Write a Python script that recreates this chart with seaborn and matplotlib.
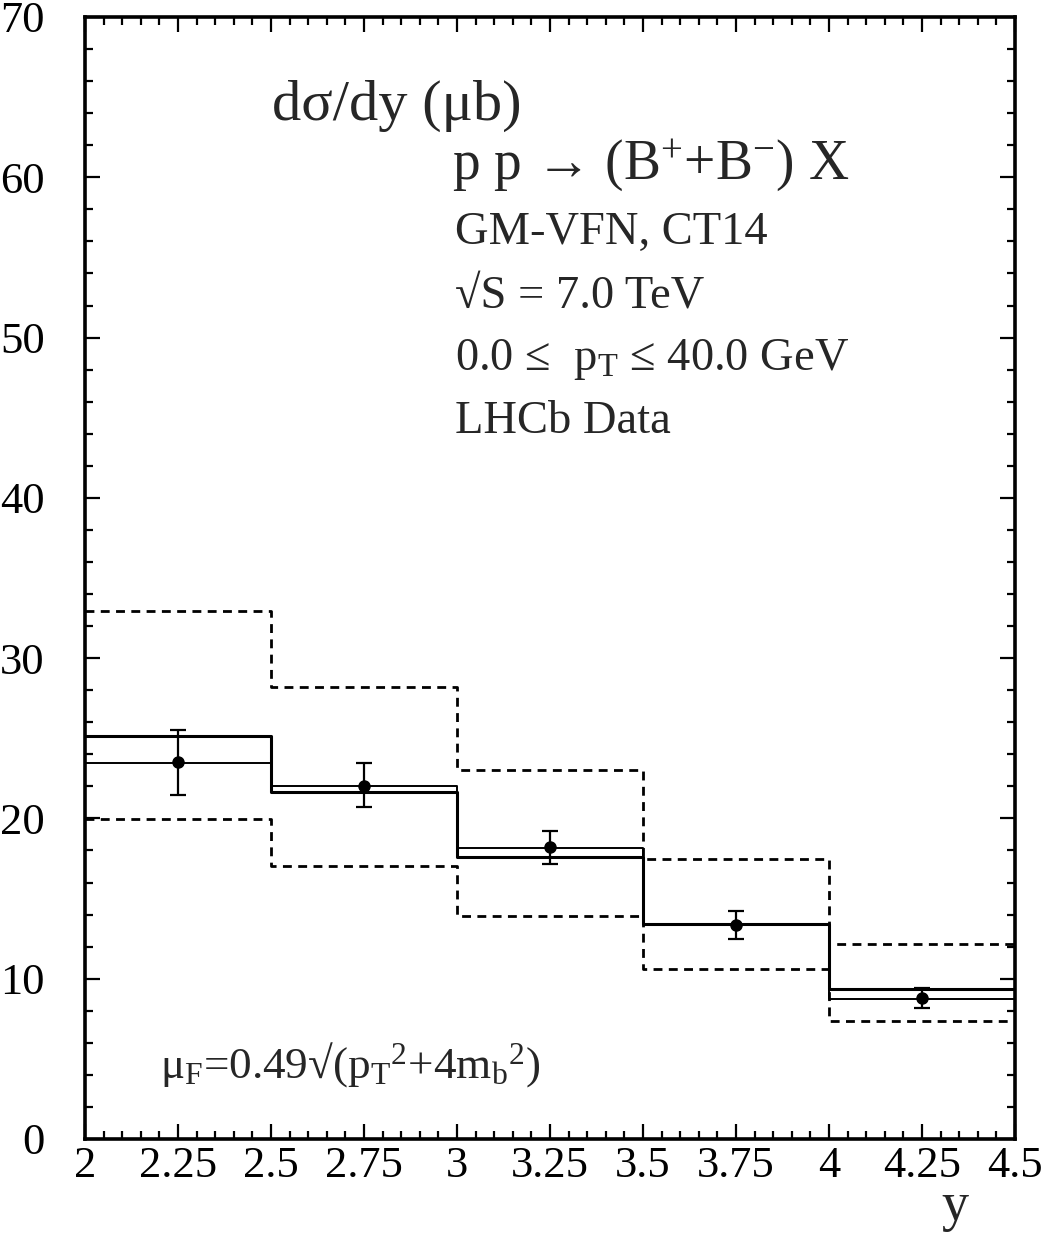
import matplotlib
matplotlib.use('Agg')
import matplotlib.pyplot as plt
import seaborn as sns
import pandas as pd

# ---- DATA ----
y_edges = [2.0, 2.5, 3.0, 3.5, 4.0, 4.5]
y_centers = [2.25, 2.75, 3.25, 3.75, 4.25]

theory_thick = [25.15, 21.65, 17.6, 13.4, 9.35]
theory_thin = [23.45, 22.05, 18.15, 13.4, 8.75]
band_upper = [32.95, 28.2, 23.0, 17.5, 12.15]
band_lower = [19.95, 17.05, 13.9, 10.6, 7.35]

lhcb_val = [23.5, 22.05, 18.2, 13.35, 8.78]
lhcb_top = [25.5, 23.45, 19.2, 14.2, 9.4]
lhcb_bot = [21.45, 20.7, 17.15, 12.5, 8.15]

x_ticks = [2, 2.25, 2.5, 2.75, 3, 3.25, 3.5, 3.75, 4, 4.25, 4.5]
x_ticklabels = ['2', '2.25', '2.5', '2.75', '3', '3.25', '3.5', '3.75', '4', '4.25', '4.5']
y_ticks = [0, 10, 20, 30, 40, 50, 60, 70]

# ---- STYLE ----
sns.set_style('ticks')
plt.rcParams['font.family'] = ['Liberation Serif', 'DejaVu Serif']
plt.rcParams['mathtext.fontset'] = 'custom'
plt.rcParams['mathtext.rm'] = 'Liberation Serif'
plt.rcParams['mathtext.it'] = 'Liberation Serif'
plt.rcParams['mathtext.default'] = 'regular'
plt.rcParams['lines.dashed_pattern'] = [3.2, 2.3]

W, H = 1042, 1234
fig = plt.figure(figsize=(W / 100, H / 100), dpi=100)
ax = fig.add_axes([85 / W, 1 - 1139 / H, (1015 - 85) / W, (1139 - 17) / H])


def step_df(vals):
    return pd.DataFrame({'y': y_edges, 'v': list(vals) + [vals[-1]]})


# ---- BAND (dashed) ----
for vals in (band_upper, band_lower):
    sns.lineplot(data=step_df(vals), x='y', y='v', drawstyle='steps-post',
                 color='black', linestyle='--', linewidth=2.0,
                 estimator=None, sort=False, ax=ax)

# ---- THEORY (solid) ----
sns.lineplot(data=step_df(theory_thick), x='y', y='v', drawstyle='steps-post',
             color='black', linewidth=2.2, estimator=None, sort=False, ax=ax)
sns.lineplot(data=step_df(theory_thin), x='y', y='v', drawstyle='steps-post',
             color='black', linewidth=1.4, estimator=None, sort=False, ax=ax)

# ---- LHCb POINTS ----
err_lo = [v - b for v, b in zip(lhcb_val, lhcb_bot)]
err_hi = [t - v for v, t in zip(lhcb_val, lhcb_top)]
ax.errorbar(y_centers, lhcb_val, yerr=[err_lo, err_hi], fmt='o', color='black',
            ms=8, elinewidth=1.6, capsize=6, capthick=1.6, zorder=5)

# ---- AXES ----
ax.set_xlim(2, 4.5)
ax.set_ylim(0, 70)
ax.set_xticks(x_ticks)
ax.set_xticklabels(x_ticklabels)
ax.set_yticks(y_ticks)
ax.xaxis.set_minor_locator(matplotlib.ticker.MultipleLocator(0.05))
ax.yaxis.set_minor_locator(matplotlib.ticker.MultipleLocator(2))
ax.tick_params(which='both', direction='in', top=True, right=True, width=1.6, colors='black')
ax.tick_params(which='major', length=11)
ax.tick_params(which='minor', length=6)
ax.tick_params(axis='x', which='major', labelsize=32, pad=5)
ax.tick_params(axis='y', which='major', labelsize=32, pad=29)
for s in ax.spines.values():
    s.set_linewidth(2.6)
    s.set_color('black')
ax.set_xlabel('')
ax.set_ylabel('')

# ---- TEXTS ----
def ftext(px, py, s, size):
    fig.text(px / W, 1 - py / H, s, fontsize=size, va='baseline', ha='left')


ftext(272, 120, 'dσ/dy (μb)', 42)
ftext(452, 179, r'p p → (B$^{+}$+B$^{-}$) X', 40)
ftext(455, 244, 'GM-VFN, CT14', 33.5)
ftext(455, 307, '√S = 7.0 TeV', 33.5)
ftext(455, 370, r'0.0 ≤  $p_{T}$ ≤ 40.0 GeV', 33.5)
ftext(455, 433, 'LHCb Data', 33.5)
ftext(160, 1078, r'$\mu_{F}$=0.49√($p_{T}{}^{2}$+4$m_{b}{}^{2}$)', 32.5)
fig.text(955 / W, 1 - 1220 / H, 'y', fontsize=39, ha='center', va='baseline')

fig.savefig('out.png', dpi=100)
